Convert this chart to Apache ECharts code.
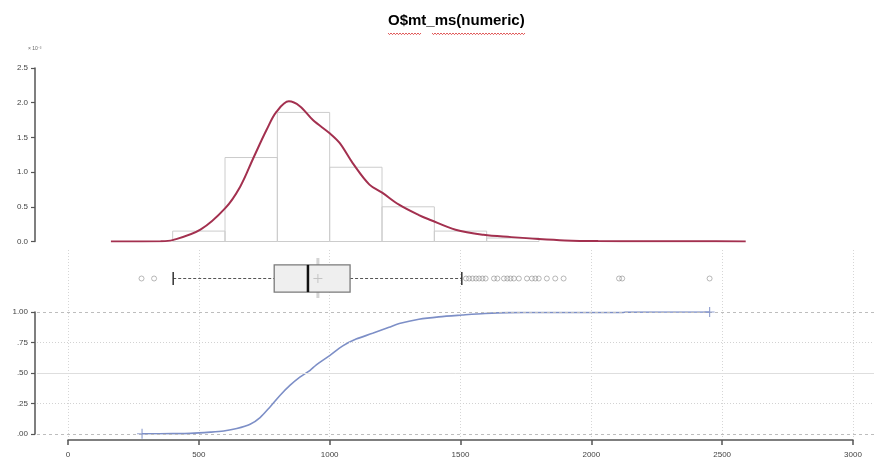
<!DOCTYPE html>
<html>
<head>
<meta charset="utf-8">
<script src="https://cdn.jsdelivr.net/npm/echarts@6/dist/echarts.min.js"></script>
<style>html,body{margin:0;padding:0;background:#fff;}#c{width:874px;height:464px;}</style>
</head>
<body>
<div id="c"></div>
<script>
// ---- data ----
const titleText = 'O$mt_ms(numeric)';
// histogram (density, units of 1e-3)
const binStart = [400, 600, 800, 1000, 1200, 1400, 1600];
const binEnd   = [600, 800, 1000, 1200, 1400, 1600, 1800];
const binDens  = [0.15, 1.21, 1.86, 1.07, 0.50, 0.15, 0.05];
// kernel density curve (units of 1e-3)
const densX = [164, 354, 400, 506, 601, 658, 708, 759, 797, 844, 886, 936, 1000, 1038, 1088, 1152, 1202, 1265, 1341, 1385, 1481, 1588, 1694, 1797, 1898, 2026, 2200, 2404, 2590];
const densY = [0, 0.003, 0.02, 0.17, 0.48, 0.79, 1.20, 1.61, 1.87, 2.02, 1.95, 1.75, 1.56, 1.42, 1.13, 0.82, 0.70, 0.53, 0.38, 0.31, 0.17, 0.097, 0.063, 0.035, 0.015, 0.006, 0.004, 0.003, 0];
// box plot summary: low whisker, Q1, median, Q3, high whisker, mean
const boxStats = [402, 788, 917, 1078, 1505, 955];
const boxOutliers = [281, 329, 1521, 1533, 1546, 1559, 1571, 1584, 1596, 1628, 1641, 1666, 1679, 1691, 1704, 1723, 1754, 1773, 1786, 1799, 1830, 1862, 1894, 2106, 2118, 2452];
// empirical CDF
const ecdfX = [283, 400, 468, 544, 595, 645, 696, 734, 772, 810, 848, 886, 924, 949, 1000, 1050, 1101, 1164, 1227, 1266, 1341, 1417, 1506, 1594, 1683, 1800, 2000, 2120, 2130, 2452];
const ecdfY = [0.002, 0.003, 0.005, 0.015, 0.025, 0.045, 0.08, 0.135, 0.222, 0.316, 0.398, 0.466, 0.52, 0.567, 0.643, 0.722, 0.778, 0.825, 0.875, 0.905, 0.94, 0.96, 0.975, 0.988, 0.995, 0.996, 0.996, 0.996, 0.999, 1.0];
const ecdfTicks = [0, 0.25, 0.5, 0.75, 1];
const xTickStep = 500;

// ---- build ----
const chart = echarts.init(document.getElementById('c'), null, {renderer: 'canvas'});
const FONT = 'Liberation Sans';
const plusPath = 'path://M0.44,0H0.56V1H0.44Z M0,0.44H1V0.56H0Z';
const axisCol = '#555';

// wavy underline (spell-check style) under title
function wavy(x0, x1, y) {
  const pts = [];
  let up = true;
  for (let x = x0; x <= x1; x += 1.5) { pts.push([x, y + (up ? 0 : 1.6)]); up = !up; }
  return pts;
}

const option = {
  animation: false,
  backgroundColor: '#fff',
  textStyle: {fontFamily: FONT},
  graphic: [
    {type: 'text', left: 388, top: 13, style: {text: titleText, font: 'bold 15px "Liberation Sans"', fill: '#000'}},
    {type: 'polyline', shape: {points: wavy(388, 421, 33)}, style: {stroke: '#d83030', lineWidth: 0.8, fill: null}, silent: true},
    {type: 'polyline', shape: {points: wavy(432, 526, 33)}, style: {stroke: '#d83030', lineWidth: 0.8, fill: null}, silent: true},
    {type: 'text', left: 28, top: 46, style: {text: '\u00d7 10\u207b\u00b3', font: '5px "Liberation Sans"', fill: '#666'}}
  ],
  grid: [
    {left: 68, width: 785, top: 68, height: 173.5},
    {left: 68, width: 785, top: 250, height: 187},
    {left: 68, width: 785, top: 250, height: 57},
    {left: 68, width: 785, top: 312, height: 122},
    {left: 37, right: 0, top: 312, height: 122}
  ],
  xAxis: [
    {gridIndex: 0, type: 'value', min: 0, max: 3000, show: false},
    {gridIndex: 1, type: 'value', min: 0, max: 3000, interval: xTickStep,
      axisLine: {show: false}, axisTick: {show: false}, axisLabel: {show: false},
      splitLine: {show: true, lineStyle: {color: '#d6d6d6', width: 1, type: [1, 2]}}},
    {gridIndex: 2, type: 'value', min: 0, max: 3000, show: false},
    {gridIndex: 3, type: 'value', min: 0, max: 3000, interval: xTickStep, offset: 6,
      axisLine: {show: true, onZero: false, lineStyle: {color: axisCol, width: 1.5}},
      axisTick: {show: true, length: 5, lineStyle: {color: axisCol, width: 1.5}},
      axisLabel: {fontSize: 8, color: '#444', margin: 11, fontFamily: FONT, formatter: v => String(v)},
      splitLine: {show: false}},
    {gridIndex: 4, type: 'value', min: 0, max: 1, show: false}
  ],
  yAxis: [
    {gridIndex: 0, type: 'value', min: 0, max: 2.5, interval: 0.5, offset: 33,
      axisLine: {show: true, onZero: false, lineStyle: {color: axisCol, width: 1.5}},
      axisTick: {show: true, length: 4, lineStyle: {color: axisCol, width: 1.2}},
      axisLabel: {fontSize: 8, color: '#444', margin: 7, fontFamily: FONT, formatter: v => v.toFixed(1)},
      splitLine: {show: false}},
    {gridIndex: 1, type: 'value', min: 0, max: 1, show: false},
    {gridIndex: 2, type: 'value', min: 0, max: 1, show: false},
    {gridIndex: 3, type: 'value', min: 0, max: 1, interval: 0.25, offset: 33,
      axisLine: {show: true, onZero: false, lineStyle: {color: axisCol, width: 1.5}},
      axisTick: {show: true, length: 4, lineStyle: {color: axisCol, width: 1.2}},
      axisLabel: {fontSize: 8, color: '#444', margin: 7, fontFamily: FONT,
        formatter: v => v >= 1 ? '1.00' : v.toFixed(2).replace(/^0/, '')},
      splitLine: {show: false}},
    {gridIndex: 4, type: 'value', min: 0, max: 1, show: false}
  ],
  series: [
    // horizontal reference lines of the ECDF panel
    {type: 'line', xAxisIndex: 4, yAxisIndex: 4, data: [[0, 0]], symbol: 'none', lineStyle: {opacity: 0}, z: 1, silent: true,
      markLine: {silent: true, symbol: 'none', label: {show: false},
        data: ecdfTicks.map(t => ({yAxis: t, lineStyle: {
          color: (t === 0 || t === 1) ? '#bdbdbd' : (t === 0.5 ? '#dedede' : '#d2d2d2'),
          width: 1, type: (t === 0.5) ? 'solid' : (t === 0 || t === 1 ? [3, 3] : [1, 2])}}))}},
    // histogram
    {type: 'custom', xAxisIndex: 0, yAxisIndex: 0, z: 2,
      data: binStart.map((s, i) => [s, binEnd[i], binDens[i]]),
      renderItem: (params, api) => {
        const p0 = api.coord([api.value(0), api.value(2)]);
        const p1 = api.coord([api.value(1), 0]);
        return {type: 'rect', shape: {x: p0[0], y: p0[1], width: p1[0] - p0[0], height: p1[1] - p0[1]},
          style: {fill: 'none', stroke: '#cccccc', lineWidth: 1}};
      }},
    // density
    {type: 'line', xAxisIndex: 0, yAxisIndex: 0, z: 3, symbol: 'none', smooth: 0.35,
      data: densX.map((x, i) => [x, densY[i]]),
      lineStyle: {color: '#a3304f', width: 2}},
    // box plot
    {type: 'custom', xAxisIndex: 2, yAxisIndex: 2, z: 3,
      data: [boxStats],
      renderItem: (params, api) => {
        const yc = api.coord([0, 0.5])[1];
        const X = v => api.coord([v, 0.5])[0];
        const lo = X(api.value(0)), q1 = X(api.value(1)), md = X(api.value(2)),
              q3 = X(api.value(3)), hi = X(api.value(4)), mn = X(api.value(5));
        const hh = 13.6, cap = 6.6;
        const dash = {stroke: '#555', lineWidth: 1.2, lineDash: [3, 2]};
        return {type: 'group', children: [
          {type: 'line', shape: {x1: mn, y1: yc - 20.5, x2: mn, y2: yc + 19.5}, style: {stroke: '#d4d4d4', lineWidth: 3}},
          {type: 'line', shape: {x1: lo, y1: yc, x2: q1, y2: yc}, style: dash},
          {type: 'line', shape: {x1: q3, y1: yc, x2: hi, y2: yc}, style: dash},
          {type: 'line', shape: {x1: lo, y1: yc - cap, x2: lo, y2: yc + cap}, style: {stroke: '#333', lineWidth: 1.5}},
          {type: 'line', shape: {x1: hi, y1: yc - cap, x2: hi, y2: yc + cap}, style: {stroke: '#333', lineWidth: 1.5}},
          {type: 'rect', shape: {x: q1, y: yc - hh, width: q3 - q1, height: 2 * hh}, style: {fill: '#efefef', stroke: '#7a7a7a', lineWidth: 1.3}},
          {type: 'line', shape: {x1: md, y1: yc - hh, x2: md, y2: yc + hh}, style: {stroke: '#111', lineWidth: 2.5}},
          {type: 'line', shape: {x1: mn - 4.5, y1: yc, x2: mn + 4.5, y2: yc}, style: {stroke: '#c4c4c4', lineWidth: 1}},
          {type: 'line', shape: {x1: mn, y1: yc - 4.5, x2: mn, y2: yc + 4.5}, style: {stroke: '#c4c4c4', lineWidth: 1}}
        ]};
      }},
    // outliers
    {type: 'scatter', xAxisIndex: 2, yAxisIndex: 2, z: 4, symbol: 'circle', symbolSize: 5,
      data: boxOutliers.map(v => [v, 0.5]),
      itemStyle: {color: 'rgba(255,255,255,0)', borderColor: '#8f8f8f', borderWidth: 0.8}},
    // ECDF
    {type: 'line', xAxisIndex: 3, yAxisIndex: 3, z: 4, symbol: 'none', smooth: 0.3,
      data: ecdfX.map((x, i) => [x, ecdfY[i]]),
      lineStyle: {color: '#7d8fc7', width: 1.6}},
    {type: 'scatter', xAxisIndex: 3, yAxisIndex: 3, z: 5, symbol: plusPath, symbolSize: 10,
      data: [[ecdfX[0], ecdfY[0]], [ecdfX[ecdfX.length - 1], ecdfY[ecdfY.length - 1]]],
      itemStyle: {color: '#7d8fc7'}}
  ]
};
chart.setOption(option);
</script>
</body>
</html>
